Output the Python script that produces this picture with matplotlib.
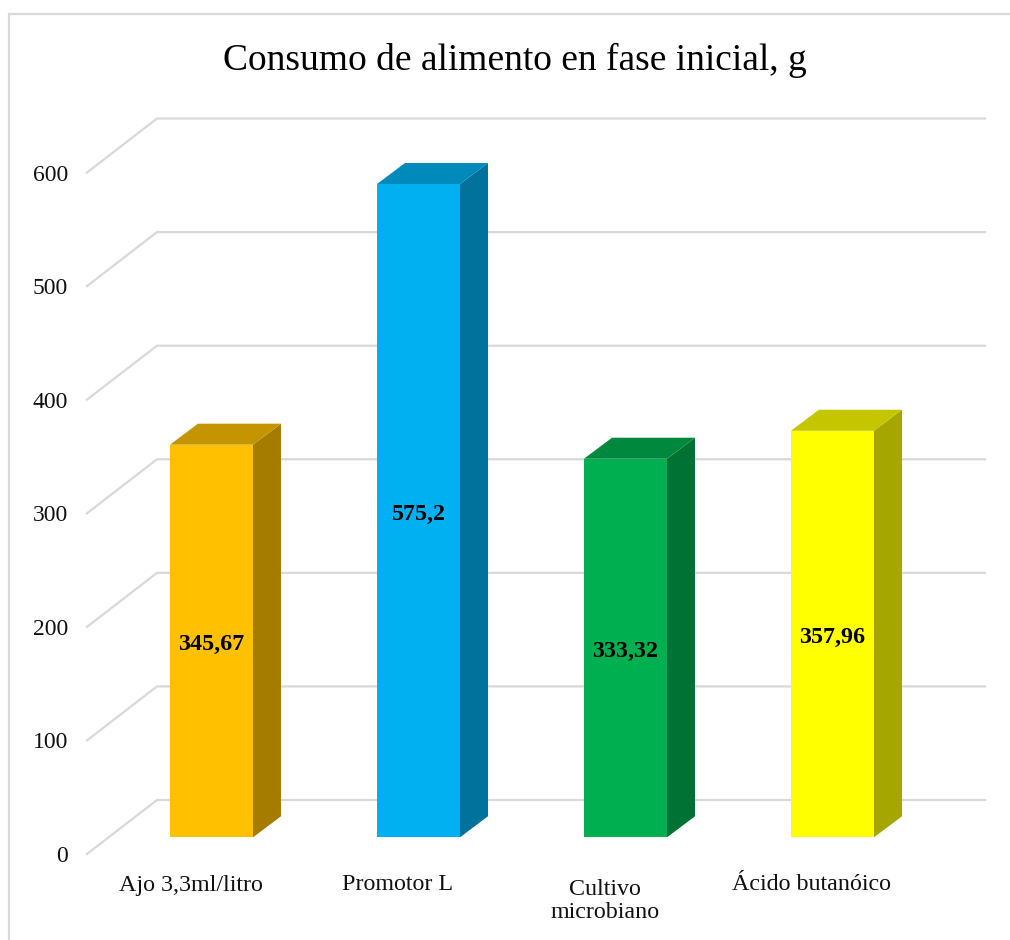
#!/usr/bin/env python3
"""Columnas 3D simuladas: consumo de alimento en fase inicial."""

import matplotlib
matplotlib.use('Agg')
import matplotlib.pyplot as plt
from matplotlib.patches import Polygon, Rectangle

plt.rcParams['font.family'] = ['Liberation Serif', 'DejaVu Serif']

categories = ['Ajo 3,3ml/litro', 'Promotor L', 'Cultivo\nmicrobiano', 'Ácido butanóico']
values = [345.67, 575.2, 333.32, 357.96]
value_labels = ['345,67', '575,2', '333,32', '357,96']
y_ticks = [0, 100, 200, 300, 400, 500, 600]

front_colors = ['#FFC000', '#00B0F0', '#00B050', '#FFFF00']
side_colors = ['#A67C00', '#00729C', '#007233', '#A6A600']
top_colors = ['#C49500', '#0089BB', '#00893E', '#C6C600']

W, H = 1010, 940
PX_PER_CAT = 207.0
PX_PER_UNIT = 1.1358
X0_PX = 211.5  # centro de la primera columna
Y0_PX = 854.0  # valor 0 en el plano frontal

fig = plt.figure(figsize=(W / 100, H / 100), dpi=100)
ax = fig.add_axes([0, 0, 1, 1])
ax.set_xlim(-X0_PX / PX_PER_CAT, (W - X0_PX) / PX_PER_CAT)
ax.set_ylim((Y0_PX - H) / PX_PER_UNIT, Y0_PX / PX_PER_UNIT)
ax.axis('off')


def dx(px):
    return px / PX_PER_CAT


def dy(px):
    return px / PX_PER_UNIT


# marco exterior: solo se ven los lados superior e izquierdo
frame_x = dx(9 - X0_PX)
frame_top = dy(Y0_PX - 14)
ax.plot([frame_x, frame_x, ax.get_xlim()[1]], [ax.get_ylim()[0], frame_top, frame_top],
        color='#D9D9D9', lw=1.6, solid_joinstyle='miter', zorder=1)

# rejilla con profundidad
grid_x0 = dx(87 - X0_PX)
grid_x1 = dx(157 - X0_PX)
grid_x2 = dx(985 - X0_PX)
for t in y_ticks:
    ax.plot([grid_x0, grid_x1, grid_x2], [t, t + dy(54), t + dy(54)],
            color='#D9D9D9', lw=1.6, solid_joinstyle='miter', zorder=2)
    ax.text(dx(68 - X0_PX), t, str(t), ha='right', va='center_baseline',
            fontsize=17, color='#111111', zorder=5)

# columnas
half = dx(41.5)
depth_x = dx(28)
depth_y = dy(21)
base = dy(16.7)
for i, v in enumerate(values):
    l, r = i - half, i + half
    top = v + base
    ax.add_patch(Polygon([(r, base), (r + depth_x, base + depth_y),
                          (r + depth_x, top + depth_y), (r, top)],
                         fc=side_colors[i], ec='none', zorder=3))
    ax.add_patch(Polygon([(l, top), (r, top), (r + depth_x, top + depth_y),
                          (l + depth_x, top + depth_y)],
                         fc=top_colors[i], ec='none', zorder=3))
    ax.add_patch(Rectangle((l, base), r - l, v, fc=front_colors[i], ec='none', zorder=4))
    ax.text(i, base + v / 2 - dy(3.5), value_labels[i], ha='center', va='center',
            fontsize=17.3, fontweight='bold', color='black', zorder=6)

# etiquetas de categoria (colocadas a mano, como en el original)
label_x_px = [191, 398, 605, 811]
label_y_px = [885, 885, 901, 884]
for i, name in enumerate(categories):
    ax.text(dx(label_x_px[i] - X0_PX), dy(Y0_PX - label_y_px[i]), name,
            ha='center', va='center', fontsize=17.3, color='#111111',
            linespacing=1.18, zorder=5)

fig.text(515 / W, 1 - 60 / H, 'Consumo de alimento en fase inicial, g',
         ha='center', va='center', fontsize=27, color='black')

fig.savefig('out.png', dpi=100, facecolor='white')
